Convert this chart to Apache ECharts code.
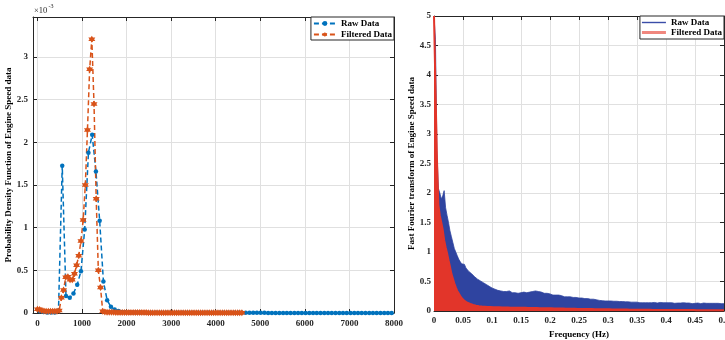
<!DOCTYPE html>
<html><head><meta charset="utf-8">
<script src="https://cdn.jsdelivr.net/npm/echarts@6/dist/echarts.min.js"></script>
<style>html,body{margin:0;padding:0;background:#fff}#c{width:725px;height:340px}</style>
</head><body><div id="c"></div>
<script>
// ---------- Left panel: probability density of engine speed (values in x10^-3) ----------
const rawSpeedBins = [52,136,220,304,388,472,556,640,724,808,892,976,1060,1144,1228,1312,1396,1480,1564,1648,
  1732,1816,1900,1984,2068,2152,2236,2320,2404,2488,2572,2656,2740,2824,2908,2992,3076,3160,3244,3328,
  3412,3496,3580,3664,3748,3832,3916,4000,4084,4168,4252,4336,4420,4504,4588,4672,4756,4840,4924,5008,
  5092,5176,5260,5344,5428,5512,5596,5680,5764,5848,5932,6016,6100,6184,6268,6352,6436,6520,6604,6688,
  6772,6856,6940,7024,7108,7192,7276,7360,7444,7528,7612,7696,7780,7864,7948];
const rawPdf = [0.02,0.012,0.006,0.005,0.006,0.03,1.727,0.20,0.18,0.23,0.33,0.49,0.98,1.88,2.09,1.66,1.08,0.37,0.15,0.074,
  0.04,0.022,0.013,0.009,0.007,0.006,0.005,0.005,0.004,0.004,0.004,0.003,0.003,0.003,0.003,0.003,0.003,0.003,0.003,0.003,
  0.003,0.002,0.002,0.002,0.002,0.002,0.002,0.002,0.002,0.002,0.002,0.002,0.002,0.002,0.002,0.002,0.002,0.002,0.002,0.002,
  0.002,0.001,0.001,0.001,0.001,0.001,0.001,0.001,0.001,0.001,0.001,0.001,0.001,0.001,0.001,0.001,0.001,0.001,0.001,0.001,
  0.001,0.001,0.001,0.001,0.001,0.001,0.001,0.001,0.001,0.001,0.001,0.001,0.001,0.001,0.001];
const filtSpeedBins = [0,49,98,146,195,244,293,342,390,439,488,537,586,634,683,732,781,830,878,927,
  976,1025,1074,1122,1171,1220,1269,1318,1366,1415,1464,1513,1562,1610,1659,1708,1757,1806,1854,1903,
  1952,2001,2050,2098,2147,2196,2245,2294,2342,2391,2440,2489,2538,2586,2635,2684,2733,2782,2830,2879,
  2928,2977,3026,3074,3123,3172,3221,3270,3318,3367,3416,3465,3514,3562,3611,3660,3709,3758,3806,3855,
  3904,3953,4002,4050,4099,4148,4197,4246,4294,4343,4392,4441,4490,4538,4587];
const filtPdf = [0.045,0.04,0.028,0.022,0.02,0.02,0.02,0.02,0.02,0.021,0.03,0.18,0.27,0.42,0.425,0.39,0.39,0.46,0.56,0.67,
  0.844,1.09,1.50,2.145,2.857,3.21,2.45,1.34,0.50,0.30,0.02,0.012,0.01,0.009,0.008,0.008,0.007,0.007,0.006,0.006,
  0.006,0.005,0.005,0.005,0.005,0.005,0.005,0.005,0.005,0.005,0.005,0.004,0.004,0.004,0.004,0.004,0.004,0.004,0.004,0.004,
  0.004,0.004,0.004,0.003,0.003,0.003,0.003,0.003,0.003,0.003,0.003,0.003,0.003,0.003,0.003,0.003,0.003,0.003,0.003,0.003,
  0.003,0.003,0.003,0.002,0.002,0.002,0.002,0.002,0.002,0.002,0.002,0.002,0.002,0.002,0.002];
const pdfTicksX = [0,1000,2000,3000,4000,5000,6000,7000,8000];
const pdfTicksY = [0,0.5,1,1.5,2,2.5,3];

// ---------- Right panel: FFT magnitude ----------
const freqHz = [0,0.0025,0.005,0.0075,0.01,0.0125,0.015,0.0175,0.02,0.0225,
  0.025,0.0275,0.03,0.0325,0.035,0.0375,0.04,0.0425,0.045,0.0475,
  0.05,0.0525,0.055,0.0575,0.06,0.0625,0.065,0.0675,0.07,0.0725,
  0.075,0.0775,0.08,0.0825,0.085,0.0875,0.09,0.0925,0.095,0.0975,
  0.1,0.1025,0.105,0.1075,0.11,0.1125,0.115,0.1175,0.12,0.1225,
  0.125,0.1275,0.13,0.1325,0.135,0.1375,0.14,0.1425,0.145,0.1475,
  0.15,0.1525,0.155,0.1575,0.16,0.1625,0.165,0.1675,0.17,0.1725,
  0.175,0.1775,0.18,0.1825,0.185,0.1875,0.19,0.1925,0.195,0.1975,
  0.2,0.2025,0.205,0.2075,0.21,0.2125,0.215,0.2175,0.22,0.2225,
  0.225,0.2275,0.23,0.2325,0.235,0.2375,0.24,0.2425,0.245,0.2475,
  0.25,0.2525,0.255,0.2575,0.26,0.2625,0.265,0.2675,0.27,0.2725,
  0.275,0.2775,0.28,0.2825,0.285,0.2875,0.29,0.2925,0.295,0.2975,
  0.3,0.3025,0.305,0.3075,0.31,0.3125,0.315,0.3175,0.32,0.3225,
  0.325,0.3275,0.33,0.3325,0.335,0.3375,0.34,0.3425,0.345,0.3475,
  0.35,0.3525,0.355,0.3575,0.36,0.3625,0.365,0.3675,0.37,0.3725,
  0.375,0.3775,0.38,0.3825,0.385,0.3875,0.39,0.3925,0.395,0.3975,
  0.4,0.4025,0.405,0.4075,0.41,0.4125,0.415,0.4175,0.42,0.4225,
  0.425,0.4275,0.43,0.4325,0.435,0.4375,0.44,0.4425,0.445,0.4475,
  0.45,0.4525,0.455,0.4575,0.46,0.4625,0.465,0.4675,0.47,0.4725,
  0.475,0.4775,0.48,0.4825,0.485,0.4875,0.49,0.4925,0.495,0.4975,
  0.5];
const fftRaw = [5,4.6,2.72,2.08,2.0,1.9,1.95,2.04,1.75,1.62,
  1.5,1.36,1.26,1.16,1.06,1.0,0.94,0.88,0.84,0.8,
  0.78,0.79,0.73,0.71,0.67,0.68,0.63,0.61,0.58,0.59,
  0.54,0.55,0.51,0.52,0.48,0.49,0.45,0.44,0.42,0.41,
  0.39,0.4,0.37,0.38,0.35,0.37,0.34,0.35,0.33,0.34,
  0.33,0.32,0.34,0.32,0.31,0.33,0.31,0.32,0.3,0.31,
  0.31,0.3,0.32,0.3,0.31,0.3,0.32,0.31,0.33,0.32,
  0.34,0.32,0.33,0.31,0.32,0.3,0.3,0.29,0.3,0.28,
  0.29,0.28,0.27,0.28,0.27,0.26,0.27,0.25,0.26,0.25,
  0.24,0.25,0.24,0.23,0.24,0.23,0.23,0.22,0.23,0.22,
  0.22,0.21,0.22,0.21,0.21,0.2,0.21,0.2,0.2,0.19,
  0.2,0.19,0.19,0.185,0.18,0.185,0.175,0.18,0.17,0.175,
  0.17,0.165,0.17,0.16,0.165,0.16,0.165,0.155,0.16,0.155,
  0.16,0.15,0.155,0.15,0.155,0.15,0.15,0.145,0.15,0.145,
  0.15,0.145,0.14,0.15,0.14,0.145,0.14,0.145,0.14,0.145,
  0.14,0.135,0.145,0.14,0.135,0.14,0.145,0.135,0.14,0.135,
  0.14,0.135,0.14,0.13,0.14,0.135,0.13,0.14,0.135,0.13,
  0.135,0.13,0.14,0.13,0.135,0.13,0.135,0.13,0.125,0.135,
  0.13,0.125,0.135,0.13,0.125,0.13,0.135,0.125,0.13,0.125,
  0.13,0.125,0.13,0.12,0.13,0.125,0.13,0.12,0.125,0.13,
  0.125];
const fftFilt = [5,5,2.6,1.8,1.62,1.5,1.38,1.2,1.08,0.98,
  0.86,0.75,0.63,0.55,0.47,0.4,0.34,0.3,0.26,0.22,
  0.19,0.17,0.155,0.14,0.13,0.12,0.11,0.102,0.096,0.09,
  0.086,0.082,0.079,0.076,0.074,0.072,0.07,0.068,0.067,0.066,
  0.065,0.064,0.064,0.063,0.062,0.062,0.061,0.06,0.06,0.059,
  0.059,0.058,0.058,0.057,0.057,0.056,0.056,0.056,0.055,0.055,
  0.055,0.054,0.054,0.053,0.053,0.052,0.052,0.051,0.051,0.05,
  0.05,0.049,0.049,0.048,0.048,0.047,0.047,0.046,0.046,0.045,
  0.045,0.045,0.044,0.044,0.043,0.043,0.042,0.042,0.041,0.041,
  0.04,0.04,0.039,0.039,0.038,0.038,0.037,0.037,0.036,0.036,
  0.036,0.035,0.035,0.034,0.034,0.033,0.033,0.033,0.032,0.032,
  0.031,0.031,0.031,0.03,0.03,0.03,0.029,0.029,0.029,0.028,
  0.028,0.028,0.027,0.027,0.027,0.026,0.026,0.026,0.025,0.025,
  0.025,0.024,0.024,0.024,0.023,0.023,0.023,0.023,0.022,0.022,
  0.022,0.022,0.021,0.021,0.021,0.021,0.02,0.02,0.02,0.02,
  0.02,0.019,0.019,0.019,0.019,0.019,0.018,0.018,0.018,0.018,
  0.018,0.018,0.017,0.017,0.017,0.017,0.017,0.016,0.016,0.016,
  0.016,0.016,0.016,0.015,0.015,0.015,0.015,0.015,0.015,0.015,
  0.015,0.014,0.014,0.014,0.014,0.014,0.014,0.014,0.014,0.013,
  0.013,0.013,0.013,0.013,0.013,0.013,0.013,0.013,0.013,0.013,
  0.013];

const legendLabels = {'Raw Data':'Raw Data','Filtered Data':'Filtered Data','Raw Data (FFT)':'Raw Data','Filtered Data (FFT)':'Filtered Data'};

// ---------- styling ----------
const FONT = 'Liberation Serif';
const AX = '#262626';
const GRIDC = '#e0e0e0';
const tickFont = {fontFamily: FONT, fontWeight: 'bold', fontSize: 9, color: AX};
const nameFont = {fontFamily: FONT, fontWeight: 'bold', fontSize: 9, color: '#000'};
const hexagram = 'path://M0,-10L2.89,-5L8.66,-5L5.77,0L8.66,5L2.89,5L0,10L-2.89,5L-8.66,5L-5.77,0L-8.66,-5L-2.89,-5Z';

function frameAxis(extra) {
  return Object.assign({
    type: 'value',
    axisLine: {show: true, onZero: false, lineStyle: {color: AX, width: 1}},
    axisTick: {show: true, inside: true, length: 4, lineStyle: {color: AX}},
    axisLabel: {show: false},
    splitLine: {show: false}
  }, extra);
}

const chart = echarts.init(document.getElementById('c'));
const option = {
  animation: false,
  backgroundColor: '#fff',
  grid: [
    {left: 33, top: 17, width: 361, height: 296, outerBoundsMode: 'none', containLabel: false},
    {left: 434, top: 16, width: 290, height: 295, outerBoundsMode: 'none', containLabel: false}
  ],
  graphic: [
    {type: 'text', left: 34, top: 6, style: {text: '×10', fontFamily: FONT, fontSize: 8.5, fill: AX}},
    {type: 'text', left: 48.5, top: 3, style: {text: '-3', fontFamily: FONT, fontSize: 6, fill: AX}}
  ],
  xAxis: [
    frameAxis({gridIndex: 0, min: -100, max: 8000,
      axisTick: {show: true, inside: true, length: 4, customValues: pdfTicksX, lineStyle: {color: AX}},
      axisLabel: Object.assign({show: true, margin: 6, customValues: pdfTicksX, formatter: v => String(v)}, tickFont),
      splitLine: {show: true, lineStyle: {color: GRIDC, width: 1}}}),
    frameAxis({gridIndex: 0, position: 'top', min: -100, max: 8000,
      axisTick: {show: true, inside: true, length: 4, customValues: pdfTicksX, lineStyle: {color: AX}}}),
    frameAxis({gridIndex: 1, min: 0, max: 0.5, interval: 0.05,
      axisLabel: Object.assign({show: true, margin: 5, hideOverlap: false}, tickFont),
      splitLine: {show: true, lineStyle: {color: GRIDC, width: 1}},
      name: 'Frequency (Hz)', nameLocation: 'middle', nameGap: 12, nameTextStyle: nameFont}),
    frameAxis({gridIndex: 1, position: 'top', min: 0, max: 0.5, interval: 0.05})
  ],
  yAxis: [
    frameAxis({gridIndex: 0, min: 0, max: 3.47,
      axisTick: {show: true, inside: true, length: 4, customValues: pdfTicksY, lineStyle: {color: AX}},
      axisLabel: Object.assign({show: true, margin: 5, customValues: pdfTicksY}, tickFont),
      splitLine: {show: true, lineStyle: {color: GRIDC, width: 1}},
      name: 'Probability Density Function of Engine Speed data', nameLocation: 'middle', nameGap: 16, nameTextStyle: nameFont}),
    frameAxis({gridIndex: 0, position: 'right', min: 0, max: 3.47,
      axisTick: {show: true, inside: true, length: 4, customValues: pdfTicksY, lineStyle: {color: AX}}}),
    frameAxis({gridIndex: 1, min: 0, max: 5, interval: 0.5,
      axisLabel: Object.assign({show: true, margin: 3}, tickFont),
      splitLine: {show: true, lineStyle: {color: GRIDC, width: 1}},
      name: 'Fast Fourier transform of Engine Speed data', nameLocation: 'middle', nameGap: 16, nameTextStyle: nameFont}),
    frameAxis({gridIndex: 1, position: 'right', min: 0, max: 5, interval: 0.5})
  ],
  legend: [
    {orient: 'vertical', right: 331, top: 17, padding: [2, 2, 1, 2], itemGap: 2, itemWidth: 22, itemHeight: 6,
     backgroundColor: '#fff', borderColor: AX, borderWidth: 1, borderRadius: 0,
     textStyle: {fontFamily: FONT, fontWeight: 'bold', fontSize: 9, color: '#000'},
     formatter: n => legendLabels[n],
     data: ['Raw Data', 'Filtered Data']},
    {orient: 'vertical', right: 1, top: 16, padding: [2, 2, 2, 2], itemGap: 1, itemWidth: 24, itemHeight: 9,
     backgroundColor: '#fff', borderColor: AX, borderWidth: 1, borderRadius: 0,
     textStyle: {fontFamily: FONT, fontWeight: 'bold', fontSize: 9, color: '#000'},
     formatter: n => legendLabels[n],
     data: [{name: 'Raw Data (FFT)', icon: 'path://M0,0H24V1.4H0Z', itemStyle: {color: '#3a4da8'}},
            {name: 'Filtered Data (FFT)', icon: 'path://M0,0H24V3H0Z', itemStyle: {color: '#f0877e'}}]}
  ],
  series: [
    {name: 'Raw Data', type: 'line', xAxisIndex: 0, yAxisIndex: 0,
     data: rawSpeedBins.map((x, i) => [x, rawPdf[i]]),
     symbol: 'circle', symbolSize: 4.5, showAllSymbol: true,
     lineStyle: {color: '#0072BD', width: 1.5, type: [5, 3]},
     itemStyle: {color: '#0072BD'}},
    {name: 'Filtered Data', type: 'line', xAxisIndex: 0, yAxisIndex: 0,
     data: filtSpeedBins.map((x, i) => [x, filtPdf[i]]),
     symbol: hexagram, symbolSize: 7, showAllSymbol: true,
     lineStyle: {color: '#D95319', width: 1.5, type: [5, 3]},
     itemStyle: {color: '#D95319'}},
    {name: 'Raw Data (FFT)', type: 'line', xAxisIndex: 2, yAxisIndex: 2,
     data: freqHz.map((f, i) => [f, fftRaw[i]]),
     symbol: 'none', lineStyle: {color: '#2F44A0', width: 0.8},
     areaStyle: {color: '#2F44A0', opacity: 1}, itemStyle: {color: '#2F44A0'}},
    {name: 'Filtered Data (FFT)', type: 'line', xAxisIndex: 2, yAxisIndex: 2,
     data: freqHz.map((f, i) => [f, fftFilt[i]]),
     symbol: 'none', lineStyle: {color: '#E2352A', width: 2},
     areaStyle: {color: '#E2352A', opacity: 1}, itemStyle: {color: '#E2352A'}}
  ]
};
chart.setOption(option);
</script>
</body></html>
